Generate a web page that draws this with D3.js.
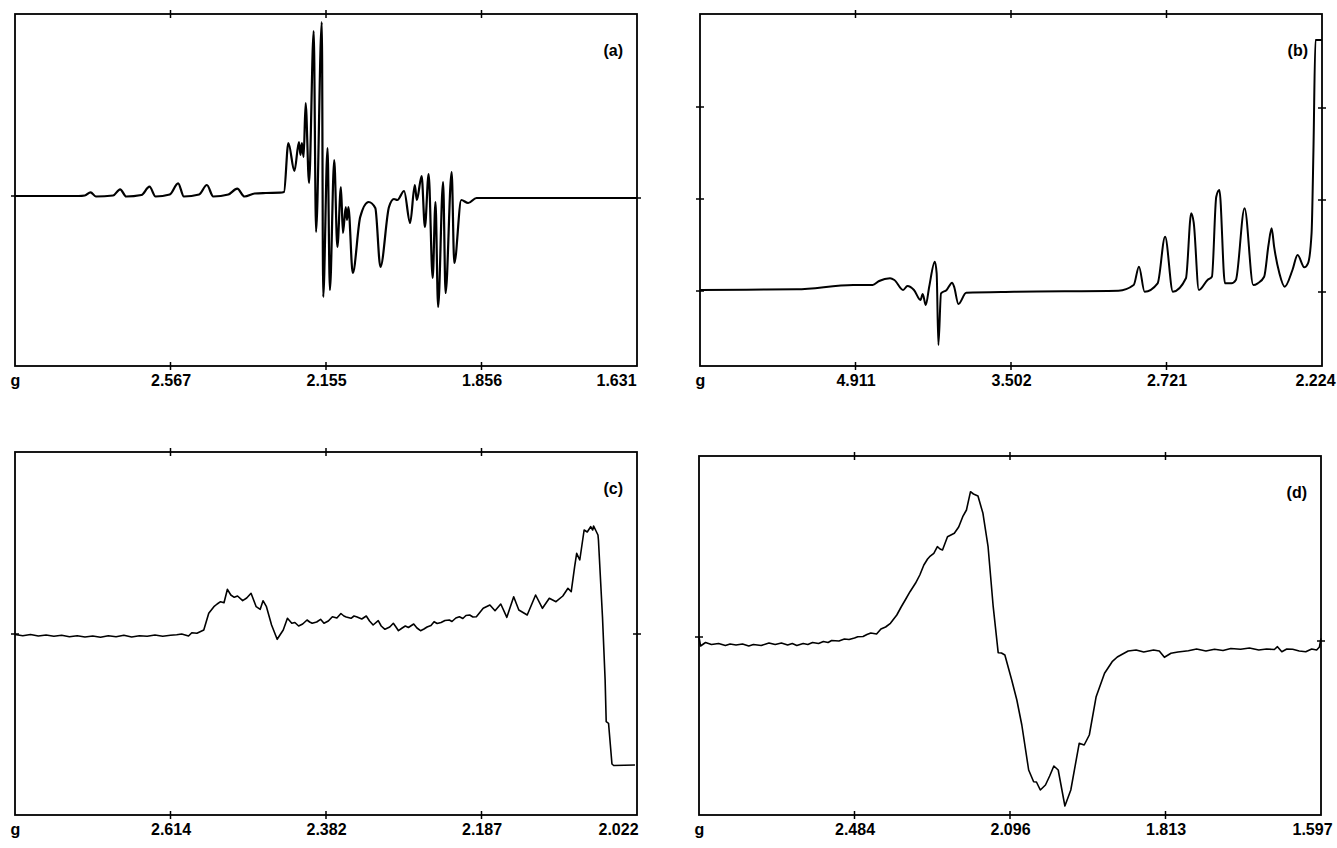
<!DOCTYPE html>
<html><head><meta charset="utf-8">
<script src="https://cdn.jsdelivr.net/npm/d3@7"></script>
<style>body{margin:0;background:#fff}svg{display:block}</style>
</head><body>
<svg id="chart" width="1337" height="848"></svg>
<script>
// ---- tick labels (g values at evenly spaced field positions 0..4) ----
const tickLabelsA = ["g", "2.567", "2.155", "1.856", "1.631"];
const tickLabelsB = ["g", "4.911", "3.502", "2.721", "2.224"];
const tickLabelsC = ["g", "2.614", "2.382", "2.187", "2.022"];
const tickLabelsD = ["g", "2.484", "2.096", "1.813", "1.597"];

// ---- spectra: [field position (tick units 0..4), signal (arb. units)] ----
const spectrumA = [[0,0],[0.41,0],[0.449,0.5],[0.486,3.7],[0.52,-0.5],[0.631,0.5],[0.676,6.7],[0.715,-0.5],[0.813,1],[0.865,9.3],[0.904,-0.5],[0.995,1.5],[1.049,12.7],[1.086,-0.5],[1.184,1.5],[1.234,11],[1.275,-0.5],[1.372,1.5],[1.429,7.3],[1.476,-0.5],[1.541,2.5],[1.613,3],[1.704,3.3],
[1.73,4],[1.758,53],[1.797,25],[1.826,54],[1.836,41],[1.845,53],[1.856,39],[1.869,93],[1.891,13],[1.921,165],[1.936,-36],[1.973,174],[1.982,-101],[2.01,48],[2.025,-94],[2.053,36],[2.073,-51],[2.096,9],[2.109,-37],[2.127,-11],[2.135,-24],[2.144,-11],[2.172,-77],[2.22,-21],[2.274,-6],[2.317,-12],[2.35,-71],[2.405,-11],[2.437,-3],[2.459,-4],[2.502,5],[2.541,-27],[2.571,11],[2.584,-4],[2.615,20],[2.636,-31],[2.66,22],[2.686,-82],[2.704,-6],[2.721,-111],[2.753,14],[2.769,-97],[2.808,24],[2.825,-67],[2.87,-4],[2.914,-7],[2.968,-2],[3.076,-2],[4.0,-2]];

const spectrumB = [[0,0],[0.3,0.3],[0.621,0.7],[0.985,5],[1.11,5],[1.152,9],[1.222,11.7],[1.25,10],[1.306,0],[1.334,4],[1.376,0],[1.418,-10],[1.432,-4],[1.452,-15],[1.474,3.3],[1.51,28.3],[1.522,16.7],[1.533,-55],[1.55,-3.3],[1.586,0],[1.622,7.3],[1.634,3.3],[1.662,-14],[1.712,-2.7],[2.02,-1.7],[2.691,-0.7],[2.789,5],[2.823,23.3],[2.859,-1.7],[2.943,6.7],[2.991,53.3],[3.041,-1.7],[3.125,11.7],[3.159,76.7],[3.175,67.3],[3.208,0],[3.264,10],[3.292,13.3],[3.32,93.3],[3.34,100],[3.376,6.7],[3.418,6.7],[3.446,10],[3.502,81.7],[3.558,5],[3.587,6.7],[3.628,13.3],[3.656,45],[3.676,61.7],[3.692,43.3],[3.726,16.7],[3.76,3.3],[3.81,20],[3.843,35],[3.886,22.7],[3.91,26.7],[3.933,57],[3.945,140],[3.958,250],[4.0,250]];

const spectrumC = [[0,0.5],[0.05,-0.7],[0.1,0.5],[0.15,-1],[0.2,0],[0.25,-1.3],[0.3,-0.3],[0.35,-1.7],[0.4,-0.7],[0.45,-2],[0.5,-1],[0.55,-2.3],[0.6,-0.7],[0.65,-1.7],[0.7,-0.3],[0.75,-2],[0.8,-0.7],[0.85,-1.3],[0.9,0],[0.95,-1.3],[1.0,-0.3],[1.04,0.3],[1.072,1],[1.116,-1],[1.137,2.3],[1.17,1.7],[1.214,5],[1.246,21.7],[1.279,28.3],[1.3,31],[1.322,33.3],[1.344,32.3],[1.366,45.7],[1.388,40],[1.41,37.7],[1.431,39],[1.464,34.3],[1.49,37],[1.518,41.7],[1.551,28.3],[1.577,25.7],[1.595,34.3],[1.617,28.3],[1.65,10],[1.686,-4.3],[1.725,5],[1.752,16.7],[1.78,11.7],[1.8,12.5],[1.824,9],[1.85,11],[1.878,15],[1.895,13],[1.911,11.7],[1.94,13],[1.965,15.7],[1.987,11.7],[2.015,14],[2.041,18.3],[2.07,17],[2.096,21.5],[2.115,19],[2.13,18],[2.161,16.7],[2.18,19],[2.2,18],[2.23,16],[2.259,19],[2.28,14],[2.303,10],[2.336,14.3],[2.355,9],[2.379,5.7],[2.41,8],[2.433,11.7],[2.45,8],[2.466,4.3],[2.49,7],[2.51,9],[2.53,7.5],[2.564,11],[2.585,7],[2.608,4.3],[2.63,6],[2.65,8],[2.675,9.5],[2.695,13.3],[2.715,11.5],[2.74,12.5],[2.765,14.5],[2.793,15],[2.81,13.5],[2.835,17],[2.858,18.3],[2.88,16.5],[2.9,19.5],[2.924,20],[2.945,18],[2.967,18.3],[3.011,26.7],[3.054,30],[3.087,24.3],[3.124,31],[3.163,17.7],[3.207,38.3],[3.24,25],[3.294,20],[3.348,40],[3.392,26.7],[3.436,36.7],[3.479,33.3],[3.523,39],[3.556,46.7],[3.577,43.3],[3.599,68.3],[3.612,81.7],[3.632,75],[3.66,105],[3.68,103],[3.702,108.3],[3.715,105],[3.721,109],[3.749,100],[3.752,95],[3.778,18.3],[3.795,-45],[3.802,-86.7],[3.817,-88.3],[3.839,-129],[3.85,-130.5],[3.987,-130]];

const spectrumD = [[0,8],[0.01,-1],[0.042,2.5],[0.08,0.5],[0.126,1.5],[0.17,-0.5],[0.2,1],[0.238,0],[0.28,1],[0.32,-1],[0.35,0.5],[0.4,-0.5],[0.45,2],[0.49,0.5],[0.53,2],[0.57,0],[0.6,1.5],[0.629,-0.5],[0.67,1.5],[0.7,0.5],[0.73,2.5],[0.769,1.5],[0.8,3.5],[0.83,2.5],[0.853,4.5],[0.9,4],[0.935,6],[0.965,5.5],[1.0,7],[1.021,8.3],[1.055,8.5],[1.08,10.5],[1.105,12],[1.142,11],[1.17,16],[1.2,18],[1.231,21.7],[1.272,30],[1.3,38],[1.33,46],[1.357,53.3],[1.392,61.7],[1.42,70],[1.446,80],[1.47,86],[1.483,88.3],[1.51,91.7],[1.533,98.3],[1.55,96],[1.566,95],[1.598,108.3],[1.62,110],[1.642,111.7],[1.67,118],[1.696,128.3],[1.72,135],[1.746,153.3],[1.765,151],[1.794,149],[1.826,131.7],[1.859,98.3],[1.892,38.3],[1.924,-7.7],[1.945,-8],[1.967,-10],[2.011,-35],[2.044,-55],[2.076,-80],[2.12,-125],[2.152,-136.7],[2.17,-137],[2.195,-145],[2.228,-140],[2.255,-131],[2.282,-121],[2.31,-125],[2.353,-161],[2.391,-145],[2.445,-98.3],[2.477,-100],[2.51,-90],[2.554,-51.7],[2.608,-28.3],[2.657,-16.7],[2.69,-12],[2.713,-10],[2.76,-6],[2.811,-5],[2.86,-7],[2.923,-5],[2.96,-6],[2.993,-12.3],[3.035,-8.3],[3.08,-7],[3.147,-5.7],[3.2,-4],[3.26,-6],[3.315,-4.3],[3.37,-5.5],[3.42,-3.5],[3.483,-4.3],[3.54,-3],[3.6,-5],[3.65,-4],[3.7,-4.5],[3.72,-1.7],[3.748,-6.7],[3.78,-4],[3.818,-4.3],[3.86,-6],[3.902,-6.7],[3.94,-4],[3.972,-5],[3.99,-2],[4.0,6.7]];

// ---- side tick values (signal units) ----
const sideTicksA = {left: [0], right: [-2]};
const sideTicksB = {left: [183, 91, -1], right: [182, 90, -2]};
const sideTicksC = {left: [1], right: [1]};
const sideTicksD = {left: [8], right: [4]};

const panels = [
  {name: "(a)", data: spectrumA, labels: tickLabelsA, side: sideTicksA, yDomain: [-170, 182],
   box: {x0: 15, x1: 637, y0: 14, y1: 366}, lw: 2.2, curve: d3.curveMonotoneX, lastShift: -21},
  {name: "(b)", data: spectrumB, labels: tickLabelsB, side: sideTicksB, yDomain: [-76, 276],
   box: {x0: 700, x1: 1322, y0: 14, y1: 366}, lw: 2.0, curve: d3.curveMonotoneX, lastShift: -7},
  {name: "(c)", data: spectrumC, labels: tickLabelsC, side: sideTicksC, yDomain: [-180, 183],
   box: {x0: 15, x1: 637, y0: 452, y1: 815}, lw: 1.6, curve: d3.curveLinear, lastShift: -19},
  {name: "(d)", data: spectrumD, labels: tickLabelsD, side: sideTicksD, yDomain: [-170, 189],
   box: {x0: 699, x1: 1321, y0: 456, y1: 815}, lw: 1.6, curve: d3.curveLinear, lastShift: -9}
];

const svg = d3.select("#chart");
const FONT = "'Liberation Sans', Arial, Helvetica, sans-serif";

panels.forEach(p => {
  const b = p.box;
  const x = d3.scaleLinear().domain([0, 4]).range([b.x0, b.x1]);
  const y = d3.scaleLinear().domain(p.yDomain).range([b.y1, b.y0]);
  const g = svg.append("g");

  // frame
  g.append("rect").attr("x", b.x0).attr("y", b.y0)
    .attr("width", b.x1 - b.x0).attr("height", b.y1 - b.y0)
    .attr("fill", "none").attr("stroke", "#000").attr("stroke-width", 1.8);

  // crossing ticks top/bottom
  const inner = [1, 2, 3];
  [b.y0, b.y1].forEach(yy => {
    g.selectAll(null).data(inner).enter().append("line")
      .attr("x1", d => x(d)).attr("x2", d => x(d))
      .attr("y1", yy - 4).attr("y2", yy + 4)
      .attr("stroke", "#000").attr("stroke-width", 1.5);
  });
  // side ticks
  g.selectAll(null).data(p.side.left).enter().append("line")
    .attr("x1", b.x0 - 4).attr("x2", b.x0 + 4)
    .attr("y1", d => y(d)).attr("y2", d => y(d))
    .attr("stroke", "#000").attr("stroke-width", 1.5);
  g.selectAll(null).data(p.side.right).enter().append("line")
    .attr("x1", b.x1 - 4).attr("x2", b.x1 + 4)
    .attr("y1", d => y(d)).attr("y2", d => y(d))
    .attr("stroke", "#000").attr("stroke-width", 1.5);

  // bottom axis labels
  const ax = g.append("g").attr("transform", `translate(0,${b.y1})`)
    .call(d3.axisBottom(x).tickValues([0, 1, 2, 3, 4])
      .tickFormat((d, i) => p.labels[i]).tickSize(0));
  ax.select(".domain").remove();
  ax.selectAll("text").attr("y", 20).attr("dy", 0)
    .attr("dx", (d, i) => i === 4 ? p.lastShift : 0)
    .attr("font-family", FONT).attr("font-weight", "bold")
    .attr("font-size", 16).attr("fill", "#000");

  // spectrum
  const line = d3.line().x(d => x(d[0])).y(d => y(d[1])).curve(p.curve);
  g.append("path").datum(p.data).attr("d", line)
    .attr("fill", "none").attr("stroke", "#000")
    .attr("stroke-width", p.lw).attr("stroke-linejoin", "round");

  // panel label
  g.append("text").attr("x", b.x1 - 14).attr("y", b.y0 + 42)
    .attr("text-anchor", "end").attr("font-family", FONT)
    .attr("font-weight", "bold").attr("font-size", 16).text(p.name);
});
</script>
</body></html>
